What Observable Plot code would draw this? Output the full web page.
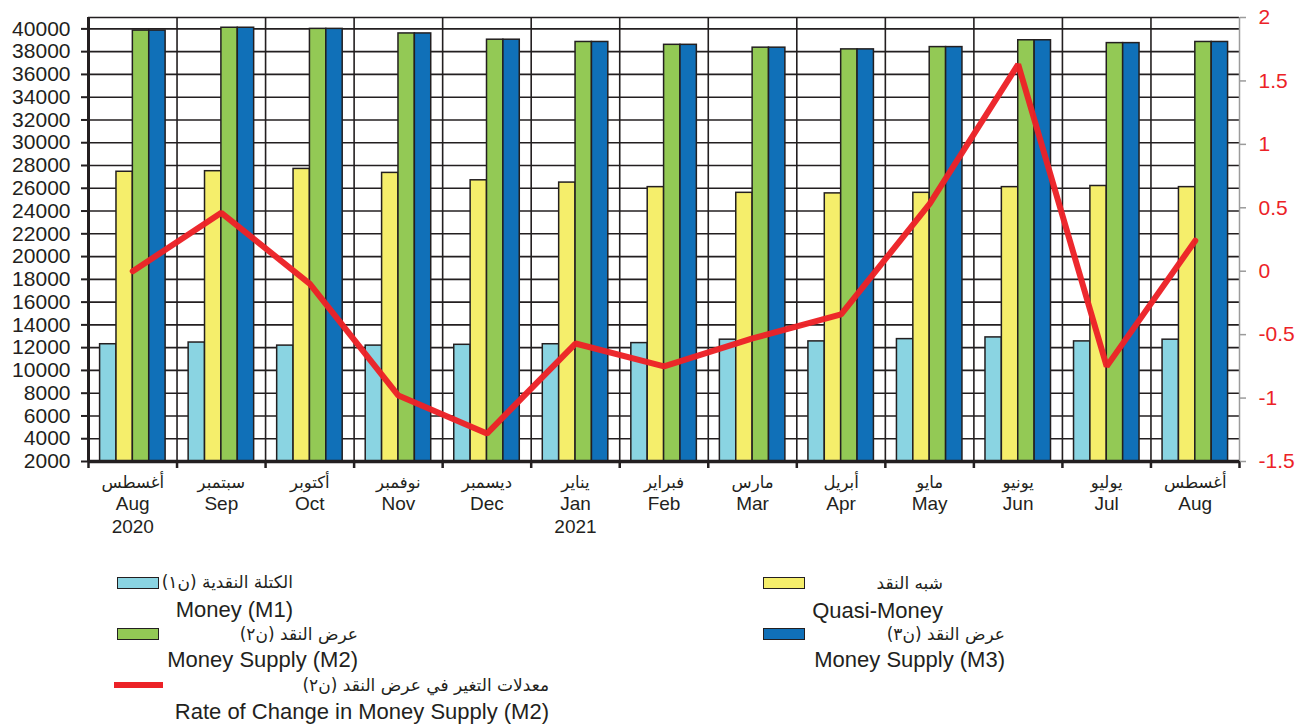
<!DOCTYPE html>
<html><head><meta charset="utf-8">
<script src="https://cdn.jsdelivr.net/npm/d3@7"></script>
<script src="https://cdn.jsdelivr.net/npm/@observablehq/plot@0.6"></script>
<style>
body{margin:0;background:#fff;font-family:"Liberation Sans",Arial,sans-serif;}
#wrap{position:relative;width:1312px;height:728px;overflow:hidden;}
#chart svg{display:block;}
.sw{position:absolute;box-sizing:border-box;border:1.6px solid #231f20;}
.ln{position:absolute;}
.lt{position:absolute;color:#231f20;white-space:nowrap;text-align:right;}
.ar{font-family:"DejaVu Sans",sans-serif;font-size:17px;line-height:20px;direction:rtl;}
.en{font-size:22px;line-height:24px;}
</style></head><body><div id="wrap"><div id="chart"></div><div id="legend"></div></div>
<script>
// ---------- data ----------
const periods = ["2020-08","2020-09","2020-10","2020-11","2020-12","2021-01","2021-02","2021-03","2021-04","2021-05","2021-06","2021-07","2021-08"];
const monthsEn = ["Aug","Sep","Oct","Nov","Dec","Jan","Feb","Mar","Apr","May","Jun","Jul","Aug"];
const monthsAr = ["أغسطس","سبتمبر","أكتوبر","نوفمبر","ديسمبر","يناير","فبراير","مارس","أبريل","مايو","يونيو","يوليو","أغسطس"];
const yearLabels = ["2020","","","","","2021","","","","","","",""];
const moneyM1 = [12300,12450,12180,12180,12250,12300,12400,12700,12550,12750,12900,12550,12700];
const quasiMoney = [27450,27500,27700,27350,26700,26500,26100,25600,25550,25600,26100,26200,26100];
const supplyM2 = [39850,40100,40000,39600,39050,38850,38600,38350,38200,38400,39000,38750,38850];
const supplyM3 = [39850,40100,40000,39600,39050,38850,38600,38350,38200,38400,39000,38750,38850];
const rateM2 = [0.0,0.46,-0.1,-0.98,-1.28,-0.57,-0.75,-0.53,-0.34,0.53,1.63,-0.75,0.24];
const leftTicks = d3.range(2000, 40001, 2000);
const rightTicks = [-1.5,-1,-0.5,0,0.5,1,1.5,2];
const leftDomain = [2000, 41000];
const rightDomain = [-1.5, 2];

const seriesNames = [
  {ar:"الكتلة النقدية (ن١)", en:"Money (M1)"},
  {ar:"شبه النقد", en:"Quasi-Money"},
  {ar:"عرض النقد (ن٢)", en:"Money Supply (M2)"},
  {ar:"عرض النقد (ن٣)", en:"Money Supply (M3)"},
  {ar:"معدلات التغير في عرض النقد (ن٢)", en:"Rate of Change in Money Supply (M2)"}
];
const colors = ["#8ad4e2","#f5ee6b","#93c955","#1070b8","#ec2227"];
const ink = "#231f20";

// ---------- layout ----------
const W = 1312, H = 550, mL = 88, mR = 73, mT = 17, mB = 89;
const bw = (W - mL - mR) / periods.length;
const groupPad = bw * 0.131, barW = bw * 0.185;

// secondary axis mapped onto primary scale
const toLeft = d3.scaleLinear().domain(rightDomain).range(leftDomain);

const rows = periods.map((p, i) => ({p, i}));
const seriesVals = [moneyM1, quasiMoney, supplyM2, supplyM3];

const bars = seriesVals.map((vals, s) => Plot.barY(rows, {
  x: "p", y1: leftDomain[0], y2: d => vals[d.i],
  fill: colors[s], stroke: ink, strokeWidth: 1.5,
  insetLeft: groupPad + s * barW,
  insetRight: bw - groupPad - (s + 1) * barW
}));

const chart = Plot.plot({
  width: W, height: H,
  marginLeft: mL, marginRight: mR, marginTop: mT, marginBottom: mB,
  style: {fontFamily: "'Liberation Sans', Arial, sans-serif", background: "#fff"},
  x: {type: "band", domain: periods, padding: 0, round: false, axis: null},
  y: {domain: leftDomain, axis: null},
  marks: [
    Plot.ruleY(leftTicks.slice(1).concat([leftDomain[1]]), {stroke: ink, strokeWidth: 1.6}),
    Plot.ruleX(periods.slice(1), {x: d => d, dx: -bw / 2, stroke: ink, strokeWidth: 1.6}),
    ...bars,
    Plot.line(rows, {x: "p", y: d => toLeft(rateM2[d.i]), stroke: colors[4], strokeWidth: 6, strokeLinejoin: "miter", strokeOpacity: 0.97}),
    Plot.ruleX([periods[periods.length - 1]], {x: d => d, dx: bw / 2, stroke: "#9b9b9b", strokeWidth: 1.5}),
    Plot.ruleY([leftDomain[0]], {stroke: ink, strokeWidth: 3.5}),
    Plot.ruleX([periods[0]], {x: d => d, dx: -bw / 2, stroke: ink, strokeWidth: 3}),
    Plot.ruleX(periods, {x: d => d, dx: -bw / 2, y1: leftDomain[0], y2: leftDomain[0], insetTop: 7, stroke: ink, strokeWidth: 2.5}),
    Plot.ruleX([periods[periods.length - 1]], {x: d => d, dx: bw / 2, y1: leftDomain[0], y2: leftDomain[0], insetTop: 7, stroke: ink, strokeWidth: 2.5}),
    Plot.axisY(leftTicks, {anchor: "left", tickSize: 7, tickPadding: 11, strokeWidth: 2, color: ink, fontSize: 21, label: null,
      tickFormat: d => String(d)}),
    Plot.axisY(rightTicks.map(toLeft), {anchor: "right", tickSize: 6, tickPadding: 13, stroke: "#9b9b9b", strokeWidth: 1.5, color: colors[4], fontSize: 21, label: null,
      tickFormat: d => String(+toLeft.invert(d).toFixed(2))}),
    Plot.text(rows, {x: "p", text: d => monthsAr[d.i], frameAnchor: "bottom", dy: 26, fontSize: 16.5, fontFamily: "DejaVu Sans", fill: ink}),
    Plot.text(rows, {x: "p", text: d => monthsEn[d.i], frameAnchor: "bottom", dy: 48, fontSize: 19, fill: ink}),
    Plot.text(rows, {x: "p", text: d => yearLabels[d.i], frameAnchor: "bottom", dy: 71, fontSize: 19, fill: ink})
  ]
});
document.getElementById("chart").appendChild(chart);

// ---------- legend ----------
const legendItems = [
  {s: 0, kind: "box", left: 117, top: 577, arC: 582, enC: 610, right: 293},
  {s: 2, kind: "box", left: 117, top: 628, arC: 634, enC: 660, right: 358},
  {s: 4, kind: "line", left: 114, top: 682, arC: 685, enC: 712, right: 549},
  {s: 1, kind: "box", left: 763, top: 577, arC: 583, enC: 611, right: 943},
  {s: 3, kind: "box", left: 763, top: 628, arC: 634, enC: 660, right: 1005}
];
const leg = document.getElementById("legend");
for (const it of legendItems) {
  const sw = document.createElement("div");
  if (it.kind === "box") {
    sw.className = "sw";
    Object.assign(sw.style, {left: it.left + "px", top: it.top + "px", width: "42px", height: "12px", background: colors[it.s]});
  } else {
    sw.className = "ln";
    Object.assign(sw.style, {left: it.left + "px", top: it.top + "px", width: "49px", height: "6px", background: colors[it.s]});
  }
  leg.appendChild(sw);
  const ar = document.createElement("div");
  ar.className = "lt ar";
  ar.textContent = seriesNames[it.s].ar;
  Object.assign(ar.style, {right: (W - it.right) + "px", top: (it.arC - 10) + "px"});
  leg.appendChild(ar);
  const en = document.createElement("div");
  en.className = "lt en";
  en.textContent = seriesNames[it.s].en;
  Object.assign(en.style, {right: (W - it.right) + "px", top: (it.enC - 12) + "px"});
  leg.appendChild(en);
}
</script></body></html>
